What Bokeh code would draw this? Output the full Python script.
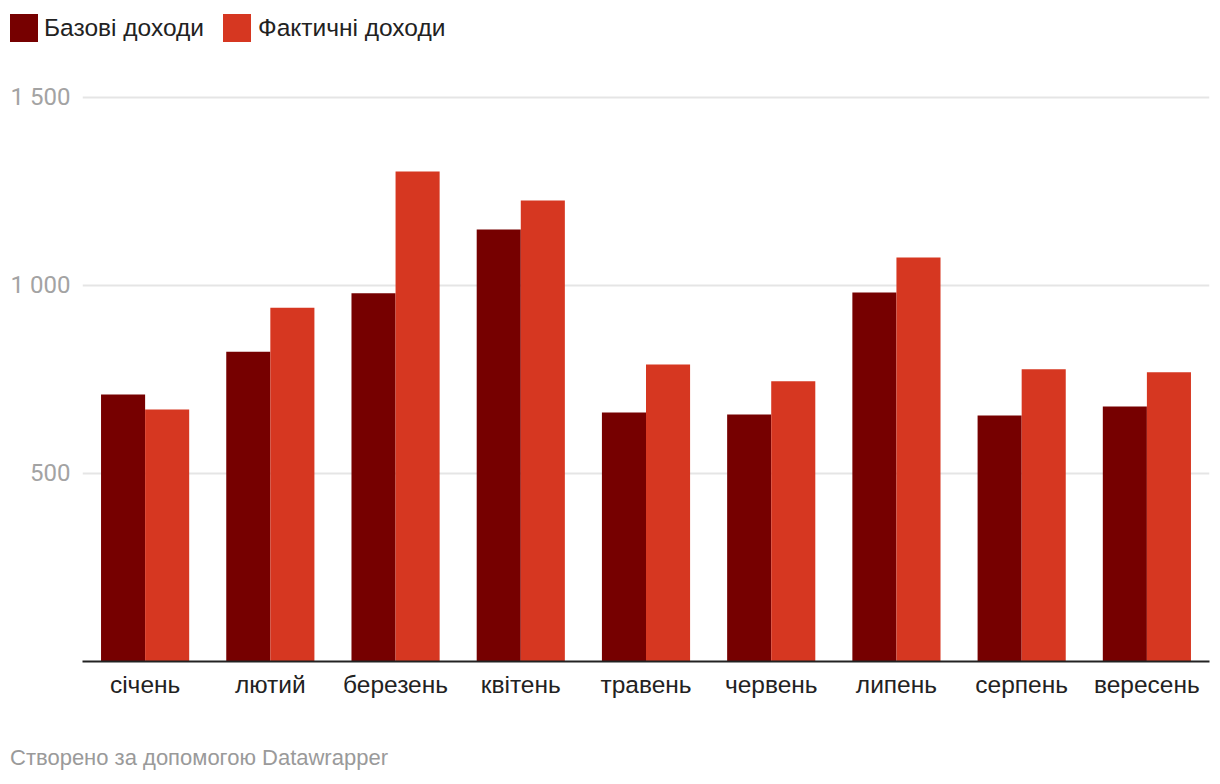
from bokeh.plotting import figure
from bokeh.layouts import column
from bokeh.models import FactorRange, Range1d, FixedTicker, ColumnDataSource, Div
from bokeh.transform import dodge
from bokeh.embed import file_html
from bokeh.resources import INLINE

months = ["січень", "лютий", "березень", "квітень", "травень", "червень", "липень", "серпень", "вересень"]
base_income = [710, 824, 979, 1149, 662, 657, 981, 654, 678]
actual_income = [670, 941, 1303, 1226, 790, 745, 1074, 777, 769]
series_names = ["Базові доходи", "Фактичні доходи"]
colors = ["#760000", "#d63721"]
y_ticks = [500, 1000, 1500]
y_tick_labels = {500: "500", 1000: "1 000", 1500: "1 500"}
footer_text = "Створено за допомогою Datawrapper"

src = ColumnDataSource(dict(m=months, base=base_income, actual=actual_income))

W = 1212
TOP_H = 80
FRAME_H = 581
BOTTOM_B = 50
FOOT_H = 70
FONT = "'Liberation Sans', Arial, sans-serif"

# ---- legend strip ----
legend_html = (
    f'<div style="position:relative;width:{W}px;height:{TOP_H}px;font-family:{FONT};'
    f'font-size:24.5px;color:#222222;">'
    f'<div style="position:absolute;left:10px;top:14px;width:28px;height:28px;background:{colors[0]};"></div>'
    f'<div style="position:absolute;left:44px;top:14px;height:28px;line-height:28px;white-space:nowrap;">{series_names[0]}</div>'
    f'<div style="position:absolute;left:223px;top:14px;width:28px;height:28px;background:{colors[1]};"></div>'
    f'<div style="position:absolute;left:258px;top:14px;height:28px;line-height:28px;white-space:nowrap;">{series_names[1]}</div>'
    f'</div>'
)
top = Div(text=legend_html, width=W, height=TOP_H, margin=0)

# ---- main chart ----
p = figure(width=W, height=FRAME_H + BOTTOM_B, output_backend="svg", toolbar_location=None,
           x_range=FactorRange(*months, range_padding=0, factor_padding=0),
           y_range=Range1d(0, 1545),
           min_border_left=82, min_border_right=3, min_border_top=0,
           min_border_bottom=BOTTOM_B)
p.outline_line_color = None
p.background_fill_color = "white"
p.border_fill_color = "white"

bw = 0.352
p.vbar(x=dodge("m", -bw / 2, range=p.x_range), top="base", width=bw, source=src,
       fill_color=colors[0], line_color=None)
p.vbar(x=dodge("m", bw / 2, range=p.x_range), top="actual", width=bw, source=src,
       fill_color=colors[1], line_color=None)

p.xaxis.axis_line_color = "#222222"
p.xaxis.axis_line_width = 2
p.xaxis.major_tick_line_color = None
p.xaxis.minor_tick_line_color = None
p.xaxis.major_label_text_font = "Liberation Sans"
p.xaxis.major_label_text_font_size = "24.5px"
p.xaxis.major_label_text_color = "#222222"
p.xaxis.major_label_standoff = 3

p.yaxis.axis_line_color = None
p.yaxis.major_tick_line_color = None
p.yaxis.minor_tick_line_color = None
p.yaxis.ticker = FixedTicker(ticks=y_ticks)
p.yaxis.major_label_overrides = y_tick_labels
p.yaxis.major_label_text_font = "Roboto"
p.yaxis.major_label_text_font_size = "24px"
p.yaxis.major_label_text_color = "#a3a3a3"
p.yaxis.major_label_standoff = 6

p.xgrid.grid_line_color = None
p.ygrid.grid_line_color = "#e5e5e5"
p.ygrid.grid_line_width = 2
p.ygrid.ticker = FixedTicker(ticks=y_ticks)

# ---- footer ----
footer_html = (
    f'<div style="position:relative;width:{W}px;height:{FOOT_H}px;font-family:{FONT};'
    f'font-size:22px;color:#9a9a9a;">'
    f'<div style="position:absolute;left:10px;top:34px;height:26px;line-height:26px;white-space:nowrap;">{footer_text}</div>'
    f'</div>'
)
foot = Div(text=footer_html, width=W, height=FOOT_H, margin=0)

layout = column(top, p, foot, spacing=0)
open("out.html", "w").write(file_html(layout, INLINE))
